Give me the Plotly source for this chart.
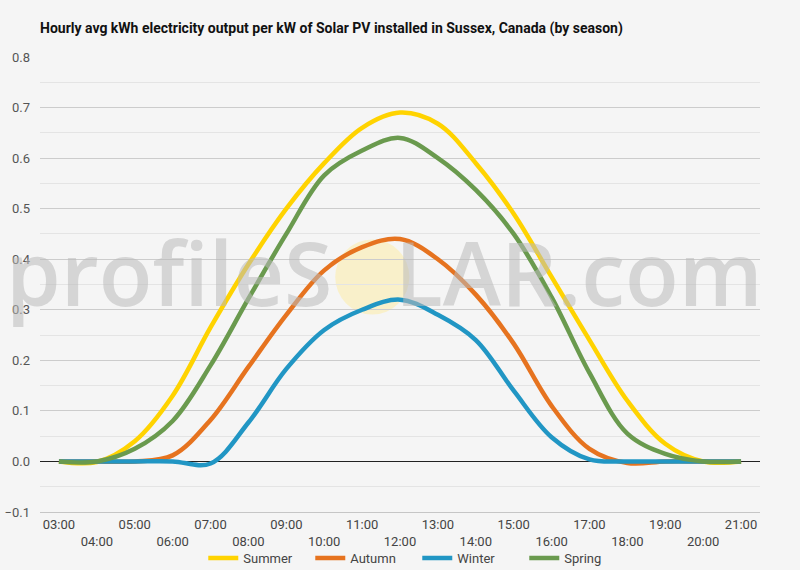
import plotly.graph_objects as go

hours = list(range(3, 22))
hour_labels = [f"{h:02d}:00" for h in hours]

summer = [0.0, -0.001, 0.04, 0.13, 0.265, 0.39, 0.50, 0.59, 0.66, 0.69, 0.668, 0.59, 0.49, 0.365, 0.24, 0.12, 0.035, 0.0, 0.0]
autumn = [0.0, 0.0, 0.0, 0.012, 0.082, 0.187, 0.29, 0.378, 0.424, 0.44, 0.40, 0.33, 0.233, 0.11, 0.025, -0.003, 0.0, 0.0, 0.0]
winter = [0.0, 0.0, 0.0, 0.0, -0.004, 0.077, 0.183, 0.26, 0.30, 0.32, 0.29, 0.24, 0.14, 0.048, 0.004, 0.0, 0.0, 0.0, 0.0]
spring = [0.0, 0.0, 0.025, 0.08, 0.19, 0.322, 0.45, 0.566, 0.615, 0.64, 0.60, 0.537, 0.45, 0.325, 0.175, 0.055, 0.015, 0.0, 0.0]

series = [
    ("Summer", summer, "#FFD300"),
    ("Autumn", autumn, "#E6731F"),
    ("Winter", winter, "#2196C4"),
    ("Spring", spring, "#6A9A4E"),
]

# odd hours on the first row, even hours pushed to a second row
tick_text = [lab if i % 2 == 0 else "<br>" + lab for i, lab in enumerate(hour_labels)]

fig = go.Figure()
for name, values, color in series:
    fig.add_trace(
        go.Scatter(
            x=hours,
            y=values,
            name=name,
            mode="lines",
            line=dict(color=color, width=4.5, shape="spline", smoothing=1),
        )
    )

# watermark
wm_font = dict(family="Open Sans", size=88, color="rgba(185,185,185,0.55)", weight=600)
fig.add_annotation(
    text="profileS", xref="paper", yref="paper", x=-0.05, y=0.527,
    xanchor="left", yanchor="middle", showarrow=False, font=wm_font,
)
fig.add_annotation(
    text="LAR.com", xref="paper", yref="paper", x=0.49, y=0.527,
    xanchor="left", yanchor="middle", showarrow=False, font=wm_font,
)
fig.add_shape(
    type="circle", xref="paper", yref="paper", layer="below",
    x0=0.41, x1=0.513, y0=0.434, y1=0.599,
    fillcolor="rgba(255,236,150,0.45)", line=dict(width=0),
)

fig.update_layout(
    width=800,
    height=570,
    paper_bgcolor="#f5f5f5",
    plot_bgcolor="#f5f5f5",
    font=dict(family="Roboto", size=13, color="#555555"),
    margin=dict(l=40, r=40, t=57, b=58, autoexpand=False),
    title=dict(
        text="<b>Hourly avg kWh electricity output per kW of Solar PV installed in Sussex, Canada (by season)</b>",
        xref="paper", x=0, xanchor="left", y=0.951, yanchor="middle",
        font=dict(family="Roboto", size=14, color="#111111"),
    ),
    xaxis=dict(
        range=[2.5, 21.5],
        tickvals=hours,
        ticktext=tick_text,
        showgrid=False,
        showline=True,
        linecolor="#c6c6c6",
        ticks="",
        tickfont=dict(size=13, color="#444444"),
        automargin=False,
    ),
    yaxis=dict(
        range=[-0.1, 0.8],
        dtick=0.1,
        tickformat=".1f",
        gridcolor="#cccccc",
        minor=dict(dtick=0.05, showgrid=True, gridcolor="#e4e4e4"),
        zeroline=True,
        zerolinecolor="#222222",
        zerolinewidth=1,
        tickfont=dict(size=13, color="#555555"),
        ticklabelstandoff=9,
        automargin=False,
    ),
    legend=dict(
        orientation="h",
        x=0.524, xanchor="center",
        y=-0.134, yanchor="bottom",
        font=dict(size=13, color="#444444"),
        bgcolor="rgba(0,0,0,0)",
        entrywidth=62,
    ),
)

fig.write_html(
    "out.html",
    config={"displayModeBar": False},
    post_script="document.body.style.margin='0';",
)
